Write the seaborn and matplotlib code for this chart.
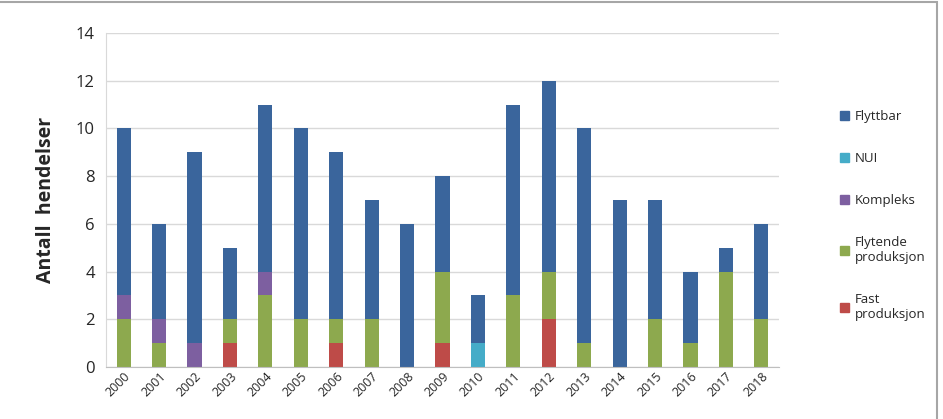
import matplotlib
matplotlib.use("Agg")
import matplotlib.pyplot as plt
import matplotlib.patches as mpatches
import seaborn as sns
import numpy as np

years = [str(y) for y in range(2000, 2019)]
fast = [0, 0, 0, 1, 0, 0, 1, 0, 0, 1, 0, 0, 2, 0, 0, 0, 0, 0, 0]
flytende = [2, 1, 0, 1, 3, 2, 1, 2, 0, 3, 0, 3, 2, 1, 0, 2, 1, 4, 2]
kompleks = [1, 1, 1, 0, 1, 0, 0, 0, 0, 0, 0, 0, 0, 0, 0, 0, 0, 0, 0]
nui = [0, 0, 0, 0, 0, 0, 0, 0, 0, 0, 1, 0, 0, 0, 0, 0, 0, 0, 0]
flyttbar = [7, 4, 8, 3, 7, 8, 7, 5, 6, 4, 2, 8, 8, 9, 7, 5, 3, 1, 4]

series = [
    ("Fast\nproduksjon", fast, "#BE4B48"),
    ("Flytende\nproduksjon", flytende, "#8DA94E"),
    ("Kompleks", kompleks, "#7D5FA0"),
    ("NUI", nui, "#45ACC8"),
    ("Flyttbar", flyttbar, "#3A659C"),
]

sns.set_style("white")
plt.rcParams['font.family'] = ['Open Sans', 'DejaVu Sans']

fig = plt.figure(figsize=(9.43, 4.19), dpi=100)
ax = fig.add_axes([106/943, 52/419, (779-106)/943, (367-33)/419])

bottom = np.zeros(len(years))
for name, vals, col in series:
    sns.barplot(x=years, y=vals, bottom=bottom, color=col, width=0.4,
                ax=ax, linewidth=0, saturation=1, errorbar=None)
    bottom = bottom + np.array(vals)

ax.set_ylim(0, 14)
ax.set_xlim(-0.5, len(years) - 0.5)
ax.set_yticks(range(0, 15, 2))
ax.yaxis.grid(True, color="#D9D9D9", linewidth=1)
ax.set_axisbelow(True)
for s in ["top", "right"]:
    ax.spines[s].set_visible(False)
ax.spines["left"].set_color("#D9D9D9")
ax.spines["bottom"].set_color("#BFBFBF")
ax.tick_params(axis="y", length=0, labelsize=12, colors="#262626", pad=8)
ax.tick_params(axis="x", length=0, labelsize=9, colors="#262626", pad=2)
ax.set_xticks(range(len(years)))
ax.set_xticklabels(years, rotation=45, ha="right", rotation_mode="anchor")
# minor ticks between categories
ax.set_xticks(np.arange(-0.5, len(years), 1), minor=True)
ax.tick_params(axis="x", which="minor", length=4, color="#BFBFBF", direction="out")
ax.set_xlabel("")
ax.set_ylabel("Antall  hendelser", fontsize=14, fontweight="bold", labelpad=14)

handles = [mpatches.Patch(color=c, label=n) for n, v, c in reversed(series)]
fig.legend(handles=handles, loc="upper left", bbox_to_anchor=(828/943, 1 - 98/419),
           frameon=False, fontsize=9.5, handlelength=0.7, handleheight=0.7,
           handletextpad=0.4, labelspacing=2.2)

border = mpatches.Rectangle((-0.01, -0.01), 937/943 + 0.01, 1 - 1.5/419 + 0.01,
                            transform=fig.transFigure, fill=False,
                            edgecolor="#A6A6A6", linewidth=1.5)
fig.patches.append(border)

fig.savefig("out.png", dpi=100)
